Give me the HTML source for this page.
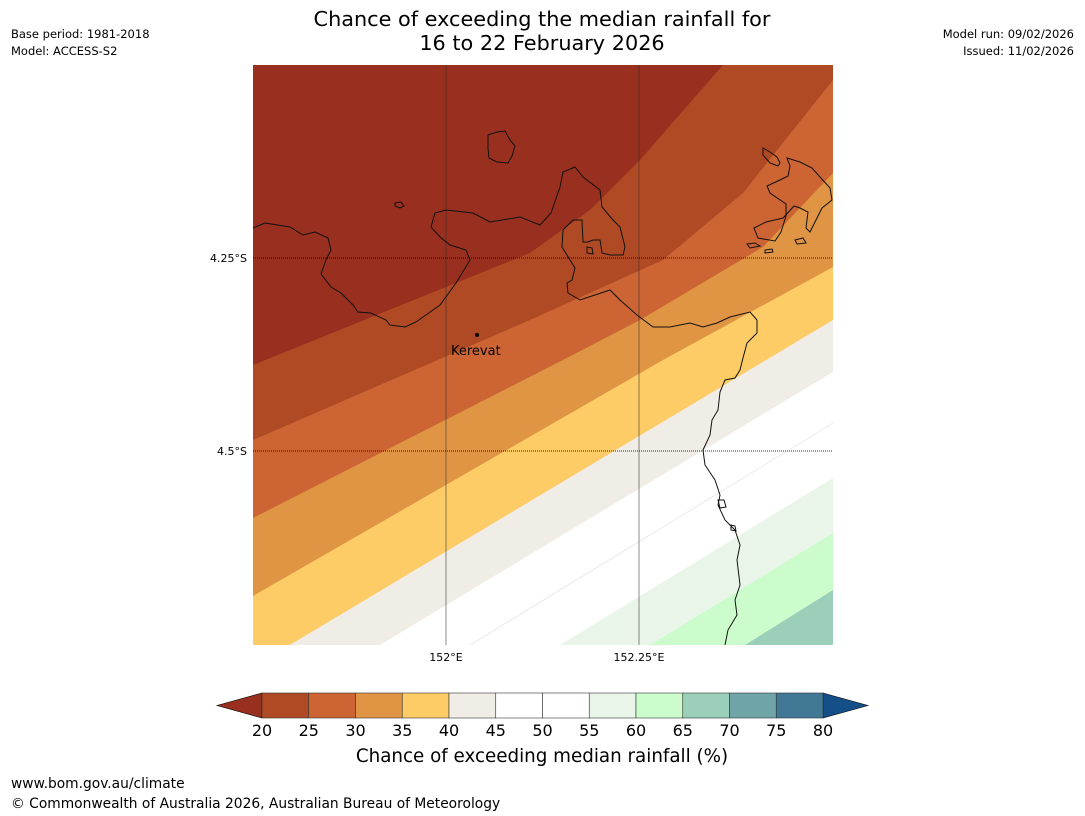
<!DOCTYPE html>
<html><head><meta charset="utf-8">
<style>
html,body{margin:0;padding:0;background:#fff;width:1085px;height:816px;overflow:hidden;}
body{font-family:"DejaVu Sans","Liberation Sans",sans-serif;position:relative}
svg{position:absolute;left:0;top:0;display:block;overflow:hidden}
text{font-family:"DejaVu Sans","Liberation Sans",sans-serif;fill:#000}
</style></head>
<body>
<svg id="chart" width="1085" height="816">
  <text x="542" y="26" font-size="20.8" text-anchor="middle">Chance of exceeding the median rainfall for</text>
  <text x="542" y="50" font-size="20.8" text-anchor="middle">16 to 22 February 2026</text>
  <text x="11" y="38" font-size="11.5">Base period: 1981-2018</text>
  <text x="11" y="55" font-size="11.5">Model: ACCESS-S2</text>
  <text x="1074" y="38" font-size="11.5" text-anchor="end">Model run: 09/02/2026</text>
  <text x="1074" y="55" font-size="11.5" text-anchor="end">Issued: 11/02/2026</text>
  <defs><clipPath id="mapclip"><rect x="253" y="65" width="580" height="580"/></clipPath></defs>
  <g id="map" clip-path="url(#mapclip)"></g>
  <g id="grid"></g>
  <g id="coast"></g>
  <g id="cbar"></g>
  <text x="542" y="762" font-size="18.3" text-anchor="middle">Chance of exceeding median rainfall (%)</text>
  <text x="11" y="788" font-size="13.8">www.bom.gov.au/climate</text>
  <text x="11" y="808" font-size="13.8">© Commonwealth of Australia 2026, Australian Bureau of Meteorology</text>
</svg>
<script>
const NS="http://www.w3.org/2000/svg";
// colour levels
const levels=[20,25,30,35,40,45,50,55,60,65,70,75,80];
const colors=["#992f1f","#b04a25","#cc6533","#e09545","#fdcc66","#f0ece6","#ffffff","#ffffff","#e9f5e9","#ccfccc","#9bcfb9","#6fa5a8","#407896","#154f88"];
// contour boundaries (projected px) between successive bands
const b20=[[253,365],[530,253],[590,210],[640,160],[723,65],[760,20]];
const b25=[[253,440],[530,320],[663,260],[743,193],[833,80],[870,35]];
const b30=[[253,518],[563,360],[640,320],[763,247],[833,173],[870,140]];
const b35=[[253,596],[663,360],[833,267],[870,247]];
const b40=[[253,667],[833,320],[870,298]];
const b45=[[380,645],[833,372],[870,350]];
const b50=[[470,645],[833,423],[870,401]];
const b55=[[560,645],[833,478],[870,456]];
const b60=[[650,645],[833,533],[870,511]];
const b65=[[745,645],[833,590],[870,568]];
const boundaries=[b20,b25,b30,b35,b40,b45,b50,b55,b60,b65];
const gridLons=["152°E","152.25°E"];const gridLonX=[446,639];
const gridLats=["4.25°S","4.5°S"];const gridLatY=[258,451];

const map=document.getElementById('map');
let base=document.createElementNS(NS,'rect');
base.setAttribute('x',253);base.setAttribute('y',65);base.setAttribute('width',580);base.setAttribute('height',580);base.setAttribute('fill',colors[0]);


map.appendChild(base);
boundaries.forEach((b,i)=>{
  const pts=[[240,b[0][1]],...b,[900,0],[900,700],[240,700]];
  const p=document.createElementNS(NS,'polygon');
  p.setAttribute('points',pts.map(q=>q.join(',')).join(' '));
  p.setAttribute('fill',colors[i+1]);
  
  
  map.appendChild(p);
});
const fl=document.createElementNS(NS,'polyline');
fl.setAttribute('points',b50.map(q=>q.join(',')).join(' '));
fl.setAttribute('fill','none');fl.setAttribute('stroke','#ddd');fl.setAttribute('stroke-width','0.6');


map.appendChild(fl);

const grid=document.getElementById('grid');
gridLonX.forEach((x,i)=>{
  const l=document.createElementNS(NS,'line');
  l.setAttribute('x1',x);l.setAttribute('x2',x);l.setAttribute('y1',65);l.setAttribute('y2',645);
  l.setAttribute('stroke','#333');l.setAttribute('stroke-width','0.8');l.setAttribute('opacity','0.7');
  
  
  grid.appendChild(l);
  const t=document.createElementNS(NS,'text');
  t.setAttribute('x',x);t.setAttribute('y',661);t.setAttribute('font-size','11');t.setAttribute('text-anchor','middle');
  t.textContent=gridLons[i];
  
  
  grid.appendChild(t);
});
gridLatY.forEach((y,i)=>{
  const l=document.createElementNS(NS,'line');
  l.setAttribute('x1',253);l.setAttribute('x2',833);l.setAttribute('y1',y);l.setAttribute('y2',y);
  l.setAttribute('stroke','#000');l.setAttribute('stroke-width','1');l.setAttribute('stroke-dasharray','1,1');l.setAttribute('opacity','0.8');
  
  
  grid.appendChild(l);
  const t=document.createElementNS(NS,'text');
  t.setAttribute('x',247);t.setAttribute('y',y+4);t.setAttribute('font-size','11');t.setAttribute('text-anchor','end');
  t.textContent=gridLats[i];
  
  
  grid.appendChild(t);
});

const coastPaths=[
"M253,228 L265,223 L290,227 L303,235 L315,232 L328,238 L331,250 L326,260 L321,274 L331,287 L341,293 L353,305 L358,312 L371,313 L386,320 L390,325 L405,327 L416,322 L440,305 L456,283 L470,260 L466,250 L450,245 L440,237 L431,227 L435,213 L446,210 L473,213 L490,222 L520,217 L540,225 L551,213 L560,187 L563,172 L575,167 L583,177 L600,190 L602,207 L613,220 L620,227 L625,247 L623,255 L610,255 L602,253 L600,240 L593,240 L588,242 L583,242 L582,220 L573,220 L563,230 L562,247 L570,260 L575,268 L572,280 L567,283 L568,293 L580,300 L610,290 L620,300 L637,315 L653,327 L670,327 L690,323 L703,327 L717,323 L730,317 L750,312 L757,320 L757,333 L747,343 L743,358 L740,370 L735,378 L725,380 L720,392 L718,410 L712,420 L710,435 L703,450 L705,465 L715,480 L720,495 L718,505 L725,520 L735,530 L740,545 L737,560 L740,585 L735,600 L737,615 L728,630 L725,645",
"M488,135 L497,132 L505,131 L510,140 L515,146 L512,156 L508,163 L497,162 L489,158 L488,148 Z",
"M395,203 L401,202 L404,206 L400,208 L395,206 Z",
"M587,247 L592,248 L593,254 L587,253 Z",
"M763,148 L770,152 L777,157 L780,163 L778,166 L770,163 L763,155 Z",
"M787,158 L800,162 L812,168 L820,177 L830,188 L832,200 L822,208 L815,222 L810,232 L806,228 L808,212 L800,208 L794,206 L783,218 L766,222 L754,228 L758,238 L775,241 L781,232 L786,216 L786,204 L770,193 L767,186 L780,180 L788,176 L790,166 Z",
"M747,244 L755,243 L760,246 L750,248 Z",
"M795,240 L803,238 L806,243 L797,244 Z",
"M765,250 L772,249 L773,252 L765,253 Z",
"M718,500 L724,500 L726,507 L720,508 Z",
"M731,525 L735,526 L736,531 L731,530 Z"
];
const coast=document.getElementById('coast');
coastPaths.forEach(d=>{
  const p=document.createElementNS(NS,'path');
  p.setAttribute('d',d);p.setAttribute('fill','none');p.setAttribute('stroke','#111');p.setAttribute('stroke-width','1');
  
  
  coast.appendChild(p);
});
const dot=document.createElementNS(NS,'circle');
dot.setAttribute('cx',477);dot.setAttribute('cy',335);dot.setAttribute('r',2);dot.setAttribute('fill','#000');


coast.appendChild(dot);
const kl=document.createElementNS(NS,'text');
kl.setAttribute('x',451);kl.setAttribute('y',355);kl.setAttribute('font-size','13');kl.textContent='Kerevat';


coast.appendChild(kl);

// colorbar
const cb=document.getElementById('cbar');
const cx0=262,cx1=823,cy0=693,cy1=718;
const seg=(cx1-cx0)/(levels.length-1);
const tipL=document.createElementNS(NS,'polygon');
tipL.setAttribute('points',`${cx0},${cy0} ${cx0-45},${(cy0+cy1)/2} ${cx0},${cy1}`);
tipL.setAttribute('fill',colors[0]);tipL.setAttribute('stroke','#000');tipL.setAttribute('stroke-width','0.6');


cb.appendChild(tipL);
const tipR=document.createElementNS(NS,'polygon');
tipR.setAttribute('points',`${cx1},${cy0} ${cx1+45},${(cy0+cy1)/2} ${cx1},${cy1}`);
tipR.setAttribute('fill',colors[colors.length-1]);tipR.setAttribute('stroke','#000');tipR.setAttribute('stroke-width','0.6');


cb.appendChild(tipR);
for(let i=0;i<levels.length-1;i++){
  const r=document.createElementNS(NS,'rect');
  r.setAttribute('x',cx0+i*seg);r.setAttribute('y',cy0);r.setAttribute('width',seg);r.setAttribute('height',cy1-cy0);
  r.setAttribute('fill',colors[i+1]);r.setAttribute('stroke','#333');r.setAttribute('stroke-width','0.6');
  
  
  cb.appendChild(r);
}
levels.forEach((v,i)=>{
  const t=document.createElementNS(NS,'text');
  t.setAttribute('x',cx0+i*seg);t.setAttribute('y',736);t.setAttribute('font-size','16');t.setAttribute('text-anchor','middle');
  t.textContent=v;
  
  
  cb.appendChild(t);
});
</script>
</body></html>
